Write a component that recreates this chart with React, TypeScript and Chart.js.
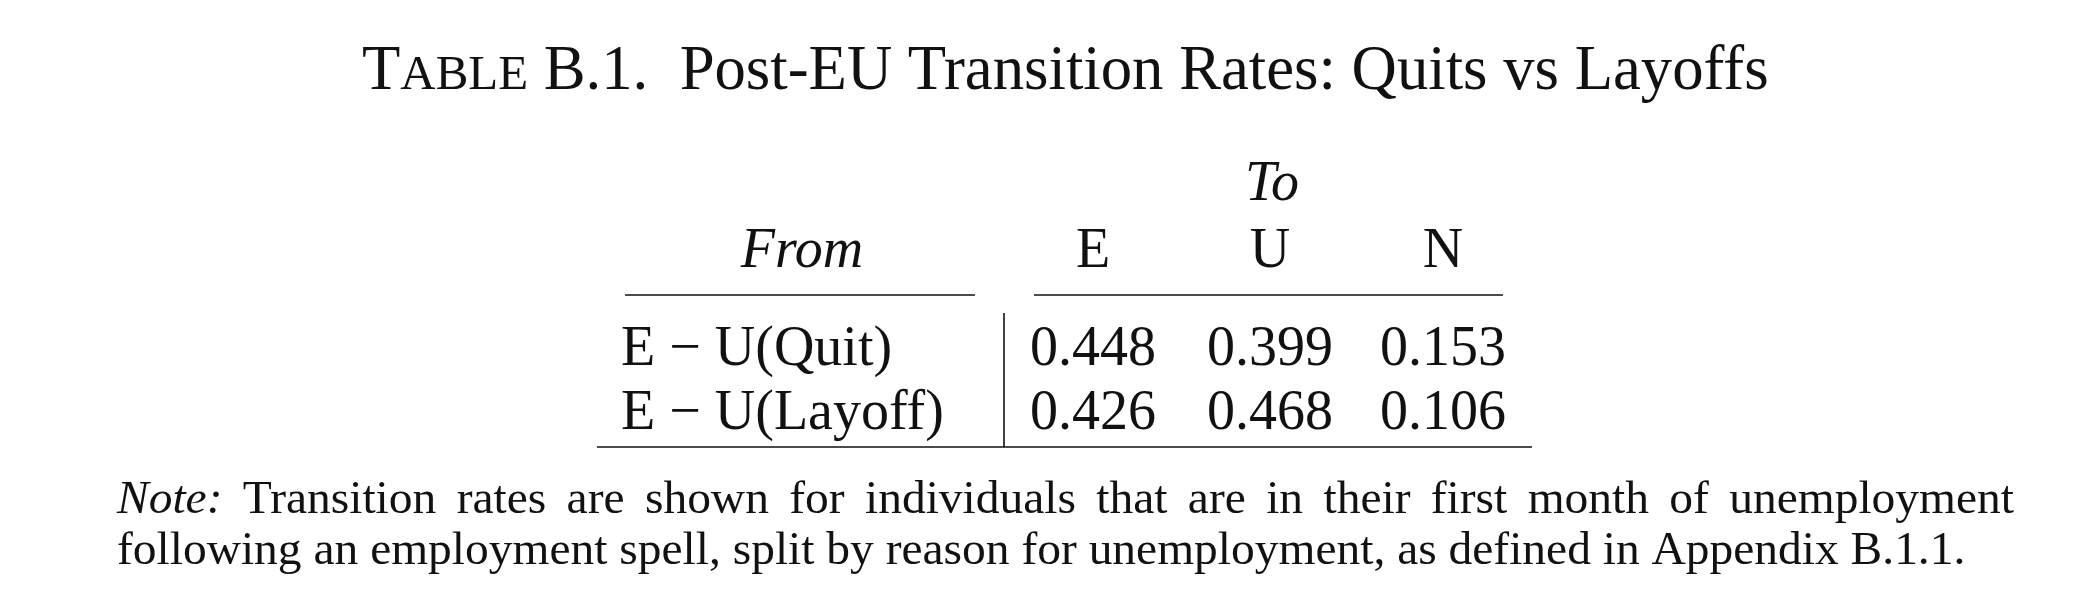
import React, { useEffect, useRef } from "react";
import { Chart, registerables } from "chart.js";
Chart.register(...registerables);

const titleLead = "T";
const titleSmallCaps = "ABLE";
const titleRest = " B.1.  Post-EU Transition Rates: Quits vs Layoffs";
const spannerLabel = "To";
const stubHeader = "From";
const columnLabels = ["E", "U", "N"];
const rowLabels = ["E − U(Quit)", "E − U(Layoff)"];
const quitRates = [0.448, 0.399, 0.153];
const layoffRates = [0.426, 0.468, 0.106];
const noteLead = "Note:";
const noteLine1 = "Transition rates are shown for individuals that are in their first month of unemployment";
const noteLine2 = "following an employment spell, split by reason for unemployment, as defined in Appendix B.1.1.";

const W = 2086, H = 612;
const FONT = "'Liberation Serif', 'DejaVu Serif', serif";

const tablePlugin = {
  id: "tableDraw",
  afterDraw(chart: any) {
    const ctx = chart.ctx as CanvasRenderingContext2D;
    const xs = chart.scales.x, ys = chart.scales.y;
    const px = (v: number) => xs.getPixelForValue(v);
    const py = (v: number) => ys.getPixelForValue(v);
    ctx.save();
    ctx.fillStyle = "#111";
    ctx.strokeStyle = "#111";
    const f = (size: number, italic = false) => (ctx.font = `${italic ? "italic " : ""}${size}px ${FONT}`);

    // Title with small caps, fitted to width
    const fitTitle = (s: number) => {
      f(s); const a = ctx.measureText(titleLead).width;
      f(s * 0.78); const b = ctx.measureText(titleSmallCaps).width;
      f(s); const c = ctx.measureText(titleRest).width;
      return [a, b, c];
    };
    let base = 50;
    let [a, b, c] = fitTitle(base);
    const ts = (base * (px(1769) - px(362))) / (a + b + c);
    [a, b, c] = fitTitle(ts);
    let tx = px(362);
    const tb = py(89);
    ctx.textAlign = "left"; ctx.textBaseline = "alphabetic";
    f(ts); ctx.fillText(titleLead, tx, tb); tx += a;
    f(ts * 0.78); ctx.fillText(titleSmallCaps, tx, tb); tx += b;
    f(ts); ctx.fillText(titleRest, tx, tb);

    const body = 56;
    const colX = [1093, 1270, 1443];
    ctx.textAlign = "center";
    f(body, true); ctx.fillText(spannerLabel, px(1272), py(200));
    ctx.fillText(stubHeader, px(802), py(267));
    f(body);
    columnLabels.forEach((l, i) => ctx.fillText(l, px(colX[i]), py(267)));

    ctx.lineWidth = 1.6;
    const hline = (x1: number, x2: number, y: number) => {
      ctx.beginPath(); ctx.moveTo(px(x1), py(y)); ctx.lineTo(px(x2), py(y)); ctx.stroke();
    };
    hline(625, 975, 295);
    hline(1034, 1503, 295);
    hline(597, 1532, 447);
    ctx.beginPath(); ctx.moveTo(px(1004), py(313)); ctx.lineTo(px(1004), py(447)); ctx.stroke();

    const rows = [quitRates, layoffRates];
    const rowBase = [365, 429];
    rows.forEach((vals, r) => {
      ctx.textAlign = "left";
      ctx.fillText(rowLabels[r], px(621), py(rowBase[r]));
      ctx.textAlign = "center";
      vals.forEach((v, i) => ctx.fillText(v.toFixed(3), px(colX[i]), py(rowBase[r])));
    });

    // Note
    ctx.textAlign = "left";
    let ns = 44;
    f(ns); const w2 = ctx.measureText(noteLine2).width;
    ns = (ns * (px(1966) - px(117))) / w2;
    f(ns, true); const leadW = ctx.measureText(noteLead).width;
    ctx.fillText(noteLead, px(117), py(513));
    f(ns);
    const words = noteLine1.split(" ");
    const ww = words.map((w) => ctx.measureText(w).width);
    const start = px(117) + leadW;
    const total = px(2014) - start;
    const gap = (total - ww.reduce((s, v) => s + v, 0)) / words.length;
    let x = start + gap;
    words.forEach((w, i) => { ctx.fillText(w, x, py(513)); x += ww[i] + gap; });
    ctx.fillText(noteLine2, px(117), py(564));
    ctx.restore();
  },
};

export default function App() {
  const ref = useRef<HTMLCanvasElement>(null);
  useEffect(() => {
    const chart = new Chart(ref.current!, {
      type: "scatter",
      data: { datasets: [{ data: [] }] },
      options: {
        animation: false,
        responsive: false,
        layout: { padding: 0 },
        plugins: { legend: { display: false }, tooltip: { enabled: false } },
        scales: {
          x: { type: "linear", min: 0, max: W, display: false },
          y: { type: "linear", min: 0, max: H, reverse: true, display: false },
        },
      },
      plugins: [tablePlugin],
    });
    return () => chart.destroy();
  }, []);
  return (
    <canvas
      ref={ref}
      width={W}
      height={H}
      style={{ position: "fixed", left: 0, top: 0, width: W, height: H, background: "#fff" }}
    />
  );
}
